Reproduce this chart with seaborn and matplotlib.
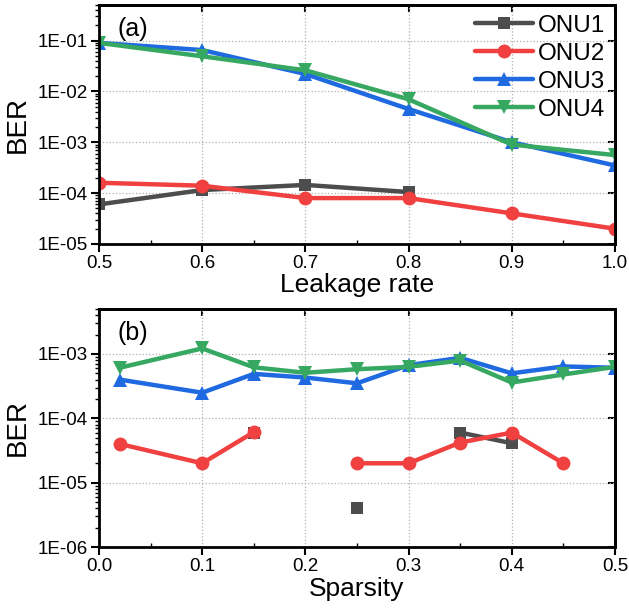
import numpy as np
import pandas as pd
import matplotlib
matplotlib.use("Agg")
import matplotlib.pyplot as plt
from matplotlib.lines import Line2D
from matplotlib.ticker import FuncFormatter, LogLocator, MultipleLocator, NullFormatter
import seaborn as sns

# ---- data ----
series_names = ["ONU1", "ONU2", "ONU3", "ONU4"]

leak_x = [0.5, 0.6, 0.7, 0.8, 0.9, 1.0]
leak_onu1 = [6.0e-5, 1.15e-4, 1.45e-4, 1.05e-4, np.nan, np.nan]
leak_onu2 = [1.6e-4, 1.4e-4, 8.0e-5, 8.0e-5, 4.0e-5, 2.0e-5]
leak_onu3 = [9.0e-2, 6.5e-2, 2.2e-2, 4.5e-3, 1.0e-3, 3.5e-4]
leak_onu4 = [9.0e-2, 4.9e-2, 2.6e-2, 7.0e-3, 9.0e-4, 5.6e-4]

sp_x = [0.02, 0.1, 0.15, 0.2, 0.25, 0.3, 0.35, 0.4, 0.45, 0.5]
sp_onu1 = [np.nan, np.nan, 6.0e-5, np.nan, 4.0e-6, np.nan, 6.0e-5, 4.1e-5, np.nan, np.nan]
sp_onu2 = [4.0e-5, 2.0e-5, 6.1e-5, np.nan, 2.0e-5, 2.0e-5, 4.2e-5, 6.0e-5, 2.0e-5, np.nan]
sp_onu3 = [4.0e-4, 2.5e-4, 4.9e-4, 4.3e-4, 3.5e-4, 6.7e-4, 8.7e-4, 5.0e-4, 6.4e-4, 6.1e-4]
sp_onu4 = [6.1e-4, 1.22e-3, 6.2e-4, 5.1e-4, 5.8e-4, 6.3e-4, 7.9e-4, 3.6e-4, 4.8e-4, 6.3e-4]

colors = ["#4d4d4d", "#f04040", "#1f6ae0", "#37a862"]
markers = ["s", "o", "^", "v"]
msizes = [8.5, 10, 10, 10]

sns.set_theme(style="ticks")
plt.rcParams["font.family"] = ["Liberation Sans", "DejaVu Sans"]
plt.rcParams["axes.linewidth"] = 2.0
for k in ["text.color", "axes.labelcolor", "xtick.color", "ytick.color", "axes.edgecolor"]:
    plt.rcParams[k] = "black"


def to_df(x, y):
    df = pd.DataFrame({"x": x, "y": y})
    df["seg"] = df["y"].isna().cumsum()
    return df.dropna()


def draw(ax, x, ys, xlim, ylim, xticks, xlabel, panel):
    for name, y, c, m, ms in zip(series_names, ys, colors, markers, msizes):
        df = to_df(x, y)
        sns.lineplot(data=df, x="x", y="y", units="seg", estimator=None,
                     color=c, marker=m, markersize=ms, linewidth=3.2,
                     markeredgewidth=0, ax=ax, legend=False)
    ax.set_yscale("log")
    ax.set_xlim(*xlim)
    ax.set_ylim(*ylim)
    ax.set_xticks(xticks)
    ax.xaxis.set_minor_locator(MultipleLocator(0.05))
    ax.xaxis.set_major_formatter(FuncFormatter(lambda v, p: f"{v:.1f}"))
    ax.yaxis.set_major_locator(LogLocator(base=10, numticks=12))
    ax.yaxis.set_minor_locator(LogLocator(base=10, subs=np.arange(2, 10), numticks=12))
    ax.yaxis.set_minor_formatter(NullFormatter())
    ax.yaxis.set_major_formatter(FuncFormatter(lambda v, p: f"1E-{int(round(-np.log10(v))):02d}"))
    ax.grid(True, which="major", linestyle=":", color="#b0b0b0", linewidth=0.9)
    ax.tick_params(axis="both", which="major", labelsize=13.5, direction="out",
                   length=6, width=1.5, pad=2)
    ax.tick_params(axis="y", which="minor", direction="out", length=3, width=1.0)
    ax.tick_params(axis="x", which="minor", direction="in", length=3, width=1.0)
    for s in ax.spines.values():
        s.set_linewidth(2.0)
        s.set_visible(True)
    sec_y = ax.secondary_yaxis("right")
    sec_y.tick_params(which="major", direction="in", length=5, width=1.5, labelright=False)
    sec_y.tick_params(which="minor", length=0)
    sec_y.yaxis.set_major_formatter(NullFormatter())
    sec_y.spines["right"].set_linewidth(2.0)
    sec_x = ax.secondary_xaxis("top")
    sec_x.set_xticks(xticks)
    sec_x.tick_params(which="major", direction="in", length=5, width=1.5, labeltop=False)
    sec_x.tick_params(which="minor", length=0)
    sec_x.spines["top"].set_linewidth(2.0)
    ax.set_xlabel(xlabel, fontsize=19, labelpad=1)
    ax.set_ylabel("BER", fontsize=20, labelpad=5)
    ax.text(0.035, 0.95, panel, transform=ax.transAxes, fontsize=18, va="top", ha="left")


fig = plt.figure(figsize=(6.29, 6.16), dpi=100)
ax1 = fig.add_axes([0.1574, 0.6039, 0.8203, 0.388])
ax2 = fig.add_axes([0.1574, 0.112, 0.8203, 0.3864])

draw(ax1, leak_x, [leak_onu1, leak_onu2, leak_onu3, leak_onu4],
     (0.5, 1.0), (1e-5, 0.5), [0.5, 0.6, 0.7, 0.8, 0.9, 1.0], "Leakage rate", "(a)")
draw(ax2, sp_x, [sp_onu1, sp_onu2, sp_onu3, sp_onu4],
     (0.0, 0.5), (1e-6, 5e-3), [0.0, 0.1, 0.2, 0.3, 0.4, 0.5], "Sparsity", "(b)")

handles = [Line2D([], [], color=c, marker=m, markersize=ms, linewidth=3.2,
                  markeredgewidth=0) for c, m, ms in zip(colors, markers, msizes)]
ax1.legend(handles, series_names, loc="upper right", frameon=False, fontsize=17.5,
           handlelength=2.4, handletextpad=0.2, labelspacing=0.25,
           borderaxespad=0.0, bbox_to_anchor=(1.0, 1.0))

fig.savefig("out.png", dpi=100)
